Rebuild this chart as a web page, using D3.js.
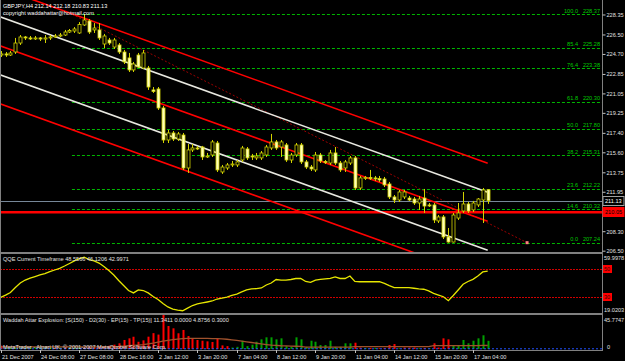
<!DOCTYPE html>
<html>
<head>
<meta charset="utf-8">
<script src="https://cdn.jsdelivr.net/npm/d3@7"></script>
<style>
  body { margin: 0; background: #000; }
  svg { display: block; font-family: "Liberation Sans", Arial, sans-serif; }
</style>
</head>
<body>
<svg id="chart" width="625" height="361"></svg>
<script>
// GBPJPY H4 bars, 21 Dec 2007 .. 17 Jan 2008
var openP = [224.60,224.70,224.60,224.88,225.71,226.27,226.18,226.13,226.18,226.08,
             226.18,226.27,226.36,226.45,226.73,226.82,226.64,227.38,227.75,226.92,
             226.92,225.62,225.99,225.34,225.53,224.88,224.33,223.22,224.60,223.40,
             223.40,221.37,221.46,219.70,216.74,217.39,216.83,217.20,214.15,215.82,
             216.00,216.09,215.21,215.35,216.46,213.78,214.15,214.43,214.43,214.89,
             215.91,215.26,215.08,215.08,215.35,216.00,216.56,216.09,216.28,214.89,
             215.35,216.28,214.71,214.24,213.97,215.35,214.75,214.61,215.54,214.61,
             214.15,214.61,215.08,212.30,213.23,213.27,213.23,213.18,213.13,212.67,
             211.47,211.19,211.47,211.37,211.28,210.91,211.37,210.73,210.73,209.25,
             209.62,207.77,207.30,209.52,210.17,210.82,210.27,210.73,211.19,212.14];
var highP = [224.97,224.88,224.97,226.18,226.45,226.36,226.36,226.36,226.27,226.45,
             226.45,226.55,226.64,226.92,227.01,227.19,227.65,228.37,227.93,227.56,
             227.56,226.55,226.18,226.18,225.71,225.07,224.79,223.96,224.79,225.07,
             223.59,221.64,221.64,219.89,217.67,217.57,217.48,217.39,216.37,216.37,
             216.19,216.19,215.54,216.74,216.65,214.43,214.61,214.80,214.89,216.19,
             216.09,215.45,215.54,215.72,216.28,217.30,216.74,216.74,216.46,215.54,
             216.46,216.46,214.89,214.43,215.63,215.54,214.89,215.82,216.09,214.80,
             214.89,215.26,215.26,213.41,213.41,213.97,213.41,213.41,213.32,212.86,
             211.65,212.12,212.12,211.56,211.47,211.56,212.21,210.91,210.91,209.80,
             209.80,208.60,209.99,210.91,211.93,211.00,211.10,211.37,212.30,212.18];
var lowP  = [224.42,224.42,224.51,224.70,225.53,225.99,225.99,225.99,225.90,225.71,
             225.99,226.18,226.27,226.36,226.64,226.64,226.55,227.29,226.55,226.64,
             225.99,225.25,225.53,225.16,224.70,223.77,223.03,223.03,223.40,223.31,
             221.37,221.09,219.52,216.46,216.46,216.65,216.65,213.97,213.69,215.63,
             215.82,214.89,215.08,215.17,213.78,213.60,213.97,214.24,214.24,214.71,
             214.89,214.89,214.89,214.89,215.17,215.82,215.82,215.17,214.71,214.61,
             215.17,214.52,214.06,213.87,213.78,214.61,214.52,214.43,214.43,213.78,
             213.78,214.43,212.12,212.12,213.04,213.04,212.95,212.86,212.39,211.28,
             210.91,211.01,211.28,211.10,210.73,210.27,209.99,210.54,209.06,209.06,
             207.58,207.24,207.26,209.34,209.99,209.99,210.08,210.54,209.06,210.83];
var closeP = [224.70,224.60,224.79,225.71,226.27,226.18,226.13,226.18,226.08,226.18,
             226.27,226.36,226.45,226.73,226.87,227.01,227.42,227.84,226.73,227.10,
             226.18,226.36,225.71,225.99,224.88,223.96,223.22,223.77,223.49,224.79,
             221.64,221.23,219.70,216.74,217.39,216.83,217.30,214.15,215.82,216.00,
             215.91,215.17,215.26,216.56,213.97,214.24,214.43,214.52,214.71,216.00,
             215.08,215.17,215.26,215.54,216.09,216.56,216.00,216.56,214.89,215.35,
             216.28,214.71,214.24,214.06,215.35,214.80,214.71,215.54,214.61,213.97,
             214.71,215.08,212.30,213.23,213.27,213.23,213.18,213.04,212.58,211.47,
             211.19,211.93,211.93,211.19,210.91,211.28,210.63,210.68,209.34,209.62,
             207.77,207.30,209.80,209.99,210.82,210.17,210.91,211.28,212.12,211.13];

var timeLabels = ["21 Dec 2007","24 Dec 08:00","27 Dec 08:00","28 Dec 16:00","2 Jan 12:00",
                  "3 Jan 20:00","7 Jan 04:00","8 Jan 12:00","9 Jan 20:00","11 Jan 04:00",
                  "14 Jan 12:00","15 Jan 20:00","17 Jan 04:00"];
var timeLabelBars = [0,8,16,24,32,40,48,56,64,72,80,88,96];

var priceTicks = [228.35,226.50,224.70,222.85,221.05,219.25,217.40,215.60,213.75,211.95,208.30,206.50];

// fibonacci retracement
var fibLevels = ["100.0","85.4","76.4","61.8","50.0","38.2","23.6","14.6","0.0"];
var fibPrices = [228.37,225.28,223.38,220.30,217.80,215.31,212.22,210.32,207.24];
var fibFrom = {bar: 14.5, price: 228.37};
var fibTo = {bar: 107, price: 207.24};

// std dev channel (mid line at bar 0 and bar 99)
var chanStart = 225.43, chanEnd = 209.22, chanDev = 2.68;
var chanMults = [2, 1, 0, -1, -2];

var bidPrice = 211.13;
var redLevel = 210.05;

// QQE
var qqe = [30.0,31.7,33.5,37.0,40.2,42.3,43.7,44.8,45.9,46.9,
           48.2,49.4,50.5,52.2,54.0,55.8,57.5,58.4,56.8,55.8,
           54.3,51.9,49.0,45.9,42.0,38.4,34.9,33.2,35.3,34.9,
           33.2,30.7,28.6,25.7,23.3,21.8,21.1,20.6,22.5,24.3,
           25.4,26.1,26.8,27.5,28.9,29.6,30.3,31.4,32.4,33.9,
           35.3,36.0,36.3,36.7,38.8,40.2,42.7,42.3,42.3,42.7,
           43.4,43.4,41.3,40.7,42.3,42.8,43.2,43.5,44.5,43.4,
           43.4,45.2,41.3,41.1,41.1,41.1,41.1,41.1,39.9,38.4,
           37.0,36.9,36.9,36.9,36.5,36.1,35.8,34.6,32.9,31.7,
           30.5,27.7,31.4,35.3,39.3,41.3,42.8,45.2,48.0,48.56];
var qqeLevels = [50, 30];

// Waddah Attar Explosion
var waeUp = [0,2,1.5,2,2.5,3,2,2.5,2,3,
             2,0,2,0,2.5,1.5,3,0,0,0,
             0,0,0,0,0,0,0,0,0,0,
             0,0,0,0,0,0,0,0,0,0,
             0,0,0,0,0,0,0,2,3,11.5,
             4,6,10.1,13.4,16.2,16.2,13.4,14.8,4,3,
             16.2,13.4,3,11.5,10.1,5.5,5.5,11.5,3,3,
             7.9,7.9,0,0,1.5,0,1.5,0,0,0,
             0,1,0,0,0,1,0,1,0,0,
             0,0,4.2,5.5,12.5,7.9,11.5,14.8,19,11.34];
var waeDown = [4.6,0,0,0,0,0,0,0,0,0,
               0,1.5,0,2,0,0,0,2,3,2,
               3,4,4.6,6,7.9,12.5,14.8,17,10,12,
               17.1,22,20,48,31.9,28.7,21.8,26.4,18,14.8,
               12.5,11.5,10.6,9.7,14.8,5,4,0,0,0,
               0,0,0,0,0,0,0,0,0,0,
               0,0,0,0,0,0,0,0,0,0,
               0,0,8.7,2,0,1.5,0,1,1.5,5.5,
               6.9,0,2,2,2,0,1.5,0,7.9,2,
               14.8,13.4,0,0,0,0,0,0,0,0];
var waeLine = [3.0,3.0,3.0,3.0,3.0,3.0,3.0,3.0,3.0,3.0,
               3.0,3.0,3.0,3.0,3.0,3.0,3.0,3.0,3.0,3.0,
               3.0,3.0,3.0,3.2,3.5,4.0,4.5,5.0,5.5,6.0,
               7.0,8.0,9.5,11.0,12.0,13.0,13.8,14.3,14.6,14.8,
               14.8,14.8,14.7,14.5,14.3,14.0,13.5,12.8,12.0,11.0,
               10.0,9.0,8.0,7.0,6.2,5.5,5.0,4.5,4.2,4.0,
               3.8,3.6,2.6,2.6,2.6,2.6,2.6,2.6,2.6,2.6,
               2.6,2.6,3.2,3.2,3.2,3.2,3.2,3.2,3.2,3.2,
               3.2,3.2,3.2,3.2,3.2,3.2,3.2,3.2,4.6,4.6,
               4.6,4.6,4.7,4.7,4.7,4.8,4.8,4.8,4.9,4.88];
var waeDeadZone = 0.3;

var svg = d3.select("svg#chart");
var axisX = 602;
var fontSize = 5.6;

var x = d3.scaleLinear().domain([0, 99]).range([0.6, 487.7]);
var y = d3.scaleLinear().domain([206.47, 229.69]).range([251, 0]);
var yQ = d3.scaleLinear().domain([19.0203, 59.9978]).range([313, 255]);
var yW = d3.scaleLinear().domain([0, 45.7747]).range([349, 316]);

svg.append("rect").attr("width", 625).attr("height", 361).attr("fill", "#000");

var defs = svg.append("defs");
function clip(id, top, bottom) {
  defs.append("clipPath").attr("id", id)
    .append("rect").attr("x", 1).attr("y", top).attr("width", axisX - 1).attr("height", bottom - top);
}
clip("clipMain", 0, 252);
clip("clipQ", 254, 313);
clip("clipW", 315, 350);

var bars = d3.range(openP.length);
var px = i => Math.round(x(i)) + 0.5;

// ---- main panel ----
var main = svg.append("g").attr("clip-path", "url(#clipMain)");

// fib levels
main.selectAll("line.fib").data(fibPrices).enter().append("line")
  .attr("x1", x(fibFrom.bar)).attr("x2", axisX)
  .attr("y1", d => Math.round(y(d)) + 0.5).attr("y2", d => Math.round(y(d)) + 0.5)
  .attr("stroke", "#00b400").attr("stroke-width", 1).attr("stroke-dasharray", "3,2");

main.append("line")
  .attr("x1", x(fibFrom.bar)).attr("y1", y(fibFrom.price))
  .attr("x2", x(fibTo.bar)).attr("y2", y(fibTo.price))
  .attr("stroke", "#9a0000").attr("stroke-width", 1).attr("stroke-dasharray", "2,2");
main.append("rect").attr("x", x(fibTo.bar) - 1.5).attr("y", y(fibTo.price) - 1.5)
  .attr("width", 3).attr("height", 3).attr("fill", "#ff8080");

// horizontal lines
main.append("line").attr("x1", 0).attr("x2", axisX)
  .attr("y1", Math.round(y(bidPrice)) + 0.5).attr("y2", Math.round(y(bidPrice)) + 0.5)
  .attr("stroke", "#778899").attr("stroke-width", 1);
main.append("line").attr("x1", 0).attr("x2", axisX)
  .attr("y1", y(redLevel)).attr("y2", y(redLevel))
  .attr("stroke", "#ff0000").attr("stroke-width", 2.6);

// channel
main.selectAll("line.chan").data(chanMults).enter().append("line")
  .attr("x1", x(0)).attr("x2", x(99))
  .attr("y1", m => y(chanStart + m * chanDev))
  .attr("y2", m => y(chanEnd + m * chanDev))
  .attr("stroke", m => Math.abs(m) == 1 ? "#e8e8e0" : "#ff0000")
  .attr("stroke-width", 1.6);

// candles
var candles = main.selectAll("g.candle").data(bars).enter().append("g");
candles.append("line")
  .attr("x1", px).attr("x2", px)
  .attr("y1", i => y(highP[i])).attr("y2", i => y(lowP[i]))
  .attr("stroke", "#d2d200").attr("stroke-width", 1);
candles.append("rect")
  .attr("x", i => Math.round(x(i)) - 1)
  .attr("y", i => y(Math.max(openP[i], closeP[i])))
  .attr("width", 3)
  .attr("height", i => Math.max(1, Math.abs(y(openP[i]) - y(closeP[i]))))
  .attr("fill", i => closeP[i] < openP[i] ? "#ffffb8" : "#000")
  .attr("stroke", "#d2d200").attr("stroke-width", 0.8);

// fib labels
var fibText = svg.append("g").attr("font-size", fontSize).attr("fill", "#00c800");
fibText.selectAll("text.lvl").data(fibLevels).enter().append("text")
  .attr("x", 578).attr("y", (d, i) => y(fibPrices[i]) - 1.5)
  .attr("text-anchor", "end").text(d => d);
fibText.selectAll("text.val").data(fibPrices).enter().append("text")
  .attr("x", 600).attr("y", d => y(d) - 1.5)
  .attr("text-anchor", "end").text(d => d3.format(".2f")(d));

// titles
svg.append("text").attr("x", 3).attr("y", 8).attr("font-size", fontSize).attr("fill", "#ffffff")
  .text("GBPJPY,H4  212.14 212.18 210.83 211.13");
svg.append("text").attr("x", 3).attr("y", 15).attr("font-size", fontSize).attr("fill", "#ffffff")
  .text("copyright waddahattar@hotmail.com");

// ---- QQE panel ----
var qg = svg.append("g").attr("clip-path", "url(#clipQ)");
qg.selectAll("line.lvl").data(qqeLevels).enter().append("line")
  .attr("x1", 0).attr("x2", axisX)
  .attr("y1", d => Math.round(yQ(d)) + 0.5).attr("y2", d => Math.round(yQ(d)) + 0.5)
  .attr("stroke", "#d00000").attr("stroke-dasharray", "2,1");
qg.append("path").datum(qqe)
  .attr("d", d3.line().x((d, i) => x(i)).y(d => yQ(d)))
  .attr("fill", "none").attr("stroke", "#e6e600").attr("stroke-width", 1.3);
svg.append("text").attr("x", 3).attr("y", 261).attr("font-size", fontSize).attr("fill", "#e0e0e0")
  .text("QQE Current Timeframe 48.5566 46.1206 42.9971");

// ---- WAE panel ----
var wg = svg.append("g").attr("clip-path", "url(#clipW)");
wg.selectAll("rect.up").data(bars).enter().append("rect")
  .attr("x", i => Math.round(x(i)) - 0.5).attr("width", 2)
  .attr("y", i => yW(waeUp[i])).attr("height", i => yW(0) - yW(waeUp[i]))
  .attr("fill", "#00a000");
wg.selectAll("rect.dn").data(bars).enter().append("rect")
  .attr("x", i => Math.round(x(i)) - 0.5).attr("width", 2)
  .attr("y", i => yW(waeDown[i])).attr("height", i => yW(0) - yW(waeDown[i]))
  .attr("fill", "#ff0000");
wg.append("path").datum(waeLine)
  .attr("d", d3.line().x((d, i) => x(i)).y(d => yW(d)))
  .attr("fill", "none").attr("stroke", "#a0522d").attr("stroke-width", 1.3);
wg.append("line").attr("x1", 0).attr("x2", axisX)
  .attr("y1", yW(waeDeadZone)).attr("y2", yW(waeDeadZone))
  .attr("stroke", "#2050ff").attr("stroke-width", 1).attr("stroke-dasharray", "2,2");
svg.append("text").attr("x", 3).attr("y", 322).attr("font-size", fontSize).attr("fill", "#e0e0e0")
  .text("Waddah Attar Explosion: [S(150) - D2(30) - EP(15) - TP(15)] 11.3411 0.0000 4.8756 0.3000");
svg.append("text").attr("x", 3).attr("y", 349).attr("font-size", fontSize).attr("fill", "#e0e0e0")
  .text("MetaTrader - Alpari UK, \u00a9 2001-2007 MetaQuotes Software Corp.");

// ---- frames ----
var frame = svg.append("g").attr("stroke", "#808080").attr("stroke-width", 1);
frame.append("line").attr("x1", 0.5).attr("x2", 0.5).attr("y1", 0).attr("y2", 350);
frame.append("line").attr("x1", axisX + 0.5).attr("x2", axisX + 0.5).attr("y1", 0).attr("y2", 351);
[252.5, 253.5, 313.5, 314.5, 350.5].forEach(function(v) {
  frame.append("line").attr("x1", 0).attr("x2", axisX).attr("y1", v).attr("y2", v);
});

// ---- right price axis ----
var yAxis = d3.axisRight(y).tickValues(priceTicks).tickSize(3).tickFormat(d3.format(".2f"));
var ya = svg.append("g").attr("transform", "translate(" + (axisX + 0.5) + ",0)").call(yAxis);
ya.select(".domain").remove();
ya.selectAll("line").attr("stroke", "#c0c0c0");
ya.selectAll("text").attr("fill", "#e0e0e0").attr("font-size", fontSize)
  .attr("font-family", "Liberation Sans, Arial, sans-serif").attr("x", 4);

function priceBox(price, fill, stroke, color) {
  var yy = Math.round(y(price));
  svg.append("rect").attr("x", axisX + 1).attr("y", yy - 4.5).attr("width", 21).attr("height", 9)
    .attr("fill", fill).attr("stroke", stroke);
  svg.append("text").attr("x", axisX + 3).attr("y", yy + 2.1).attr("font-size", fontSize)
    .attr("fill", color).text(d3.format(".2f")(price));
}
priceBox(bidPrice, "#000", "#a0a0a0", "#ffffff");
priceBox(redLevel, "#ff0000", "#ff0000", "#000");

// QQE axis
svg.append("text").attr("x", 604).attr("y", 260).attr("font-size", fontSize).attr("fill", "#e0e0e0").text("59.9978");
svg.append("text").attr("x", 604).attr("y", 312).attr("font-size", fontSize).attr("fill", "#e0e0e0").text("19.0203");
qqeLevels.forEach(function(l) {
  var yy = Math.round(yQ(l));
  svg.append("rect").attr("x", axisX + 1).attr("y", yy - 4).attr("width", 9).attr("height", 8).attr("fill", "#ff0000");
  svg.append("text").attr("x", axisX + 2).attr("y", yy + 2.1).attr("font-size", fontSize).attr("fill", "#400000").text(l);
});

// WAE axis
svg.append("text").attr("x", 604).attr("y", 322).attr("font-size", fontSize).attr("fill", "#e0e0e0").text("45.7747");
svg.append("text").attr("x", 607).attr("y", 349).attr("font-size", fontSize).attr("fill", "#e0e0e0").text("0");

// ---- time axis ----
var tg = svg.append("g");
tg.selectAll("line").data(timeLabelBars).enter().append("line")
  .attr("x1", px).attr("x2", px).attr("y1", 350).attr("y2", 353)
  .attr("stroke", "#c0c0c0");
tg.selectAll("text").data(timeLabels).enter().append("text")
  .attr("x", (d, i) => Math.round(x(timeLabelBars[i])) + 1)
  .attr("y", 359).attr("font-size", fontSize).attr("fill", "#e0e0e0")
  .text(d => d);
</script>
</body>
</html>
